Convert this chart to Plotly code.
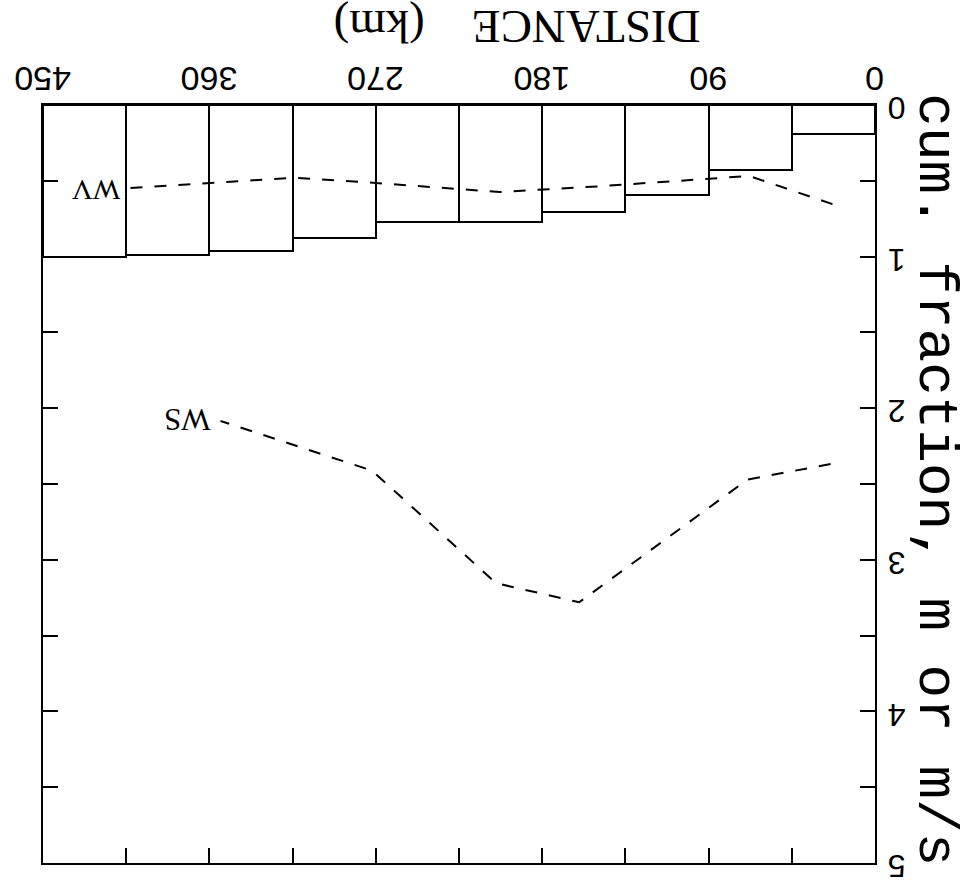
import plotly.graph_objects as go

# ---- data ----
bin_left_km = [0, 45, 90, 135, 180, 225, 270, 315, 360, 405]
bin_width_km = 45
cum_fraction = [0.194, 0.427, 0.594, 0.705, 0.772, 0.770, 0.88, 0.966, 0.987, 1.0]

wv_km = [23, 68, 150, 203, 275, 315, 354, 405]
wv_val = [0.654, 0.468, 0.537, 0.574, 0.51, 0.48, 0.51, 0.55]

ws_km = [24, 69, 160, 205, 272, 354]
ws_val = [2.368, 2.471, 3.28, 3.154, 2.412, 2.084]

x_ticks = [0, 45, 90, 135, 180, 225, 270, 315, 360, 405, 450]
x_ticktext = ["0", "", "90", "", "180", "", "270", "", "360", "", "450"]
y_ticks = [0, 0.5, 1, 1.5, 2, 2.5, 3, 3.5, 4, 4.5, 5]
y_ticktext = ["0", "", "1", "", "2", "", "3", "", "4", "", "5"]

FIG_SP = "\u2007"   # digit-wide space
PUN_SP = "\u2008"   # half-digit-wide space


def pad3(s):
    """Pad a label to three digit widths, centred (labels are drawn upside down)."""
    if len(s) == 1:
        return FIG_SP + s + FIG_SP
    if len(s) == 2:
        return PUN_SP + s + PUN_SP
    return s


bar_centers = [b + bin_width_km / 2 for b in bin_left_km]

fig = go.Figure()
fig.add_bar(
    x=bar_centers, y=cum_fraction, width=bin_width_km,
    marker=dict(color="white", line=dict(color="black", width=2)),
    showlegend=False,
)
fig.add_scatter(
    x=wv_km, y=wv_val, mode="lines",
    line=dict(color="black", width=2, dash="12px,12px"), showlegend=False,
)
fig.add_scatter(
    x=ws_km, y=ws_val, mode="lines",
    line=dict(color="black", width=2, dash="12px,12px"), showlegend=False,
)

fig.add_annotation(x=421, y=0.56, xref="x", yref="y", text="WV", showarrow=False,
                   textangle=180, font=dict(family="Liberation Serif", size=29, color="black"))
fig.add_annotation(x=372, y=2.07, xref="x", yref="y", text="WS", showarrow=False,
                   textangle=180, font=dict(family="Liberation Serif", size=31, color="black"))

fig.add_annotation(x=0.570, y=1.103, xref="paper", yref="paper",
                   text="DISTANCE&nbsp;&nbsp;&nbsp;&nbsp;(km)",
                   showarrow=False, textangle=180, xanchor="center", yanchor="middle",
                   font=dict(family="Liberation Serif", size=47, color="black"))
fig.add_annotation(x=1.072, y=0.505, xref="paper", yref="paper", text="cum. fraction, m or m/s",
                   showarrow=False, textangle=90, xanchor="center", yanchor="middle",
                   font=dict(family="Liberation Mono", size=56, color="black"))

axis_common = dict(
    ticks="inside", ticklen=15, tickwidth=2, tickcolor="black",
    showline=True, linewidth=2, linecolor="black", mirror="ticks",
    showgrid=False, zeroline=False, tickangle=180, ticklabeloverflow="allow",
    automargin=False,
)

digit_w = 0.556 * 34

fig.update_layout(
    width=969, height=887,
    margin=dict(l=43, r=94, t=105, b=24),
    paper_bgcolor="white", plot_bgcolor="white",
    bargap=0,
    xaxis=dict(range=[450, 0], side="top", tickmode="array", tickvals=x_ticks,
               ticktext=[pad3(t) if t else "" for t in x_ticktext],
               tickfont=dict(family="Liberation Sans", size=34, color="black"),
               ticklabelshift=-round(1.5 * digit_w), ticklabelstandoff=-12,
               **axis_common),
    yaxis=dict(range=[5, 0], side="right", tickmode="array", tickvals=y_ticks,
               ticktext=y_ticktext,
               tickfont=dict(family="Liberation Sans", size=32, color="black"),
               ticklabelstandoff=22, ticklabelshift=-13,
               **axis_common),
)

fig.write_html("out.html")
